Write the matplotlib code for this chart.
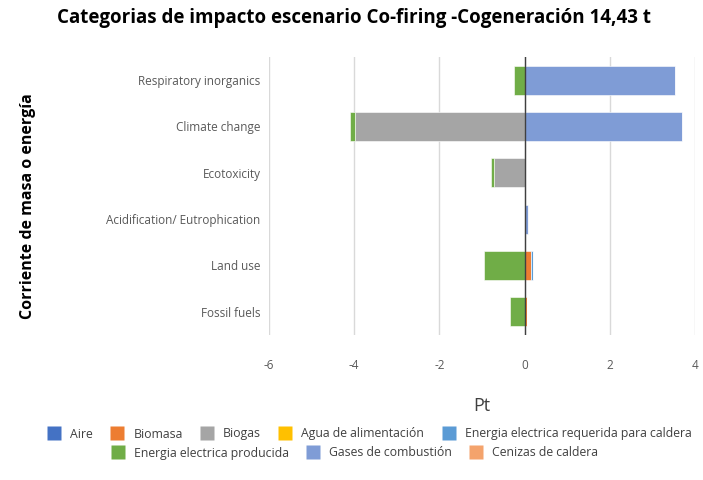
import numpy as np
import matplotlib.pyplot as plt
from matplotlib.lines import Line2D

# categorias de impacto (de arriba hacia abajo)
categories = ["Respiratory inorganics", "Climate change", "Ecotoxicity",
              "Acidification/ Eutrophication", "Land use", "Fossil fuels"]

series_names = ["Aire", "Biomasa", "Biogas", "Agua de alimentación",
                "Energia electrica requerida para caldera",
                "Energia electrica producida", "Gases de combustión",
                "Cenizas de caldera"]

aire       = [0.00, 0.00, 0.00, 0.00, 0.00, 0.00]
biomasa    = [0.01, 0.01, 0.00, 0.00, 0.16, 0.05]
biogas     = [0.00, -3.98, -0.73, 0.00, 0.00, 0.00]
agua       = [0.00, 0.00, 0.00, 0.00, 0.00, 0.00]
energia_req = [0.00, 0.00, 0.00, 0.00, 0.03, 0.00]
energia_prod = [-0.25, -0.13, -0.05, 0.02, -0.96, -0.35]
gases      = [3.52, 3.69, 0.00, 0.05, 0.00, 0.00]
cenizas    = [0.00, 0.00, 0.00, 0.00, 0.00, 0.01]

series_values = [aire, biomasa, biogas, agua, energia_req,
                 energia_prod, gases, cenizas]

x_ticks = [-6, -4, -2, 0, 2, 4]

COLORS = ["#4472C4", "#ED7D31", "#A5A5A5", "#FFC000",
          "#5B9BD5", "#70AD47", "#7F9CD6", "#F4A36C"]

plt.rcParams["font.family"] = ["Open Sans", "DejaVu Sans"]

fig = plt.figure(figsize=(7.03, 4.80), dpi=100)
ax = fig.add_axes([269/703, 1 - 335/480, 426/703, 278/480])

y = np.arange(len(categories))
pos_left = np.zeros(len(categories))
neg_left = np.zeros(len(categories))

# excel-style stacking: positives and negatives stack separately
for name, vals, col in zip(series_names, series_values, COLORS):
    vals = np.array(vals, dtype=float)
    left = np.where(vals >= 0, pos_left, neg_left)
    ax.barh(y, vals, left=left, height=0.63, color=col,
            edgecolor="white", linewidth=0.4, zorder=2)
    pos_left += np.where(vals > 0, vals, 0)
    neg_left += np.where(vals < 0, vals, 0)

ax.axvline(0, color="#404040", linewidth=1.0, zorder=3)

ax.set_xlim(-6, 4)
ax.set_ylim(len(categories) - 0.5, -0.5)
ax.set_xticks(x_ticks)
ax.set_xticklabels([str(t) for t in x_ticks])
ax.set_yticks(y)
ax.set_yticklabels(categories)

ax.grid(axis="x", color="#D9D9D9", linewidth=1.0, zorder=0)
ax.set_axisbelow(True)
for s in ax.spines.values():
    s.set_visible(False)
ax.tick_params(axis="both", length=0, labelsize=8.5, labelcolor="#595959")
ax.tick_params(axis="x", pad=17)
ax.tick_params(axis="y", pad=6)

ax.set_xlabel("Pt", fontsize=13, color="#404040", labelpad=18)

fig.text(28/703, 1 - 206/480, "Corriente de masa o energía", rotation=90,
         ha="center", va="center", fontsize=11.5, fontweight="bold", color="black")

fig.suptitle("Categorias de impacto escenario Co-firing -Cogeneración 14,43 t",
             x=354/703, y=1 - 18/480, va="center", fontsize=13.5,
             fontweight="bold", color="black")

# legend in two centered rows
handles = [Line2D([], [], linestyle="none", marker="s", markersize=10,
                  markerfacecolor=c, markeredgecolor="none") for c in COLORS]
leg_kw = dict(frameon=False, fontsize=8.8, handlelength=1.0,
              handletextpad=0.8, columnspacing=1.5, loc="center", labelcolor="#404040")
fig.legend(handles[:5], series_names[:5], ncol=5,
           bbox_to_anchor=(0.526, 1 - 434/480), **leg_kw)
fig.legend(handles[5:], series_names[5:], ncol=3,
           bbox_to_anchor=(0.505, 1 - 453/480), **leg_kw)

fig.savefig("out.png", dpi=100)
